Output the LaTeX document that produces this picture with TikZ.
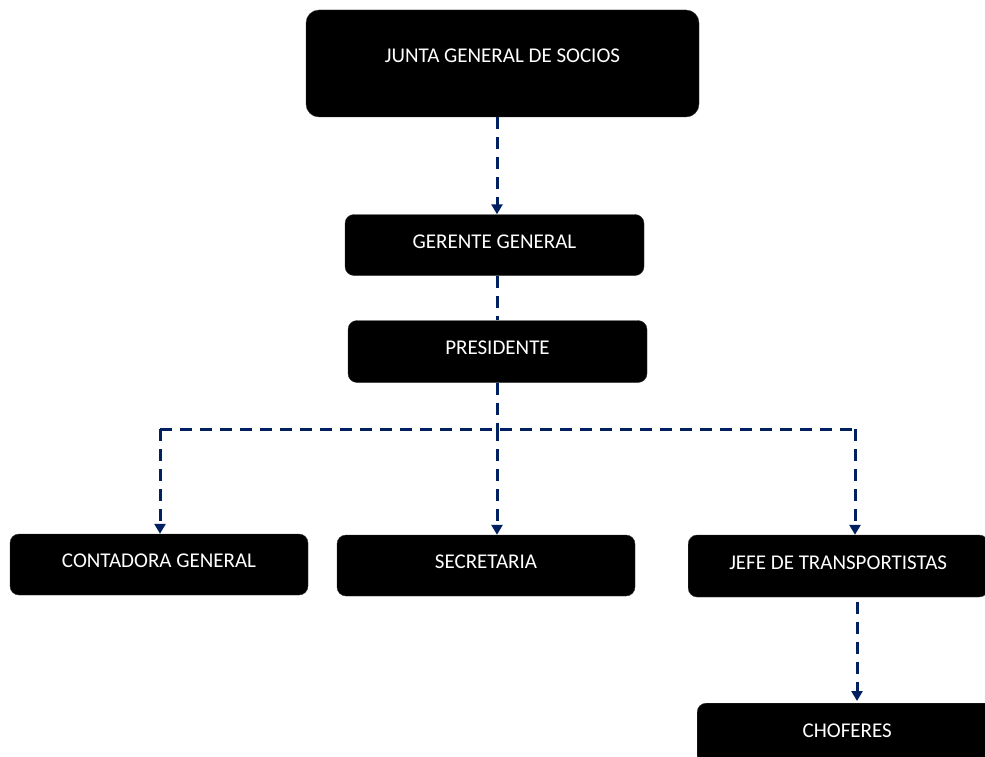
\documentclass[tikz,border=0pt]{standalone}
\usepackage{fontspec}
\setmainfont{Carlito}
\usetikzlibrary{arrows.meta}
\definecolor{navy}{HTML}{002060}
\tikzset{
  box/.style={fill=black, draw=black!80, rounded corners=9pt, text=white,
    font=\fontsize{21}{24}\selectfont, inner sep=0pt,
    text height=14pt, text depth=7.4pt, align=center},
  link/.style={draw=navy, line width=3pt, dash pattern=on 12pt off 8pt},
  arr/.style={link, -{Triangle[width=11pt,length=10pt]}}
}
\begin{document}
\begin{tikzpicture}[x=1pt,y=-1pt]
\useasboundingbox (0,0) rectangle (985,757);
\clip (0,0) rectangle (985,757);
\node[box, rounded corners=13pt, minimum width=393pt, minimum height=107pt, text depth=16.4pt] (junta) at (502.5,63.5) {JUNTA GENERAL DE SOCIOS};
\node[box, minimum width=299pt, minimum height=61pt] (gerente) at (494.5,245) {GERENTE GENERAL};
\node[box, minimum width=299pt, minimum height=62pt] (pres) at (497.5,351.5) {PRESIDENTE};
\node[box, minimum width=298pt, minimum height=61pt] (conta) at (159,564.5) {CONTADORA GENERAL};
\node[box, minimum width=298pt, minimum height=61pt] (secre) at (486,565.5) {SECRETARIA};
\node[box, minimum width=300pt, minimum height=62pt, anchor=west] (jefe) at (688,566) {JEFE DE TRANSPORTISTAS};
\node[box, minimum width=300pt, minimum height=62pt, anchor=north west] (chof) at (697,703) {CHOFERES};
\coordinate (bus) at (497,429);
\coordinate (busL) at (160,429);
\coordinate (busR) at (855,429);
\draw[arr] (junta.south -| 497,0) -- (gerente.north -| 497,0);
\draw[link] (gerente.south -| 497,0) -- (pres.north -| 497,0);
\draw[link] (pres.south -| bus) -- (bus);
\draw[link] (busL) -- (busR);
\draw[arr] (busL) -- (conta.north -| busL);
\draw[arr] (bus) -- (secre.north -| bus);
\draw[arr] (busR) -- (jefe.north -| busR);
\draw[arr] ([yshift=-5pt]jefe.south -| 857,0) -- ([yshift=2pt]chof.north -| 857,0);
\end{tikzpicture}
\end{document}
